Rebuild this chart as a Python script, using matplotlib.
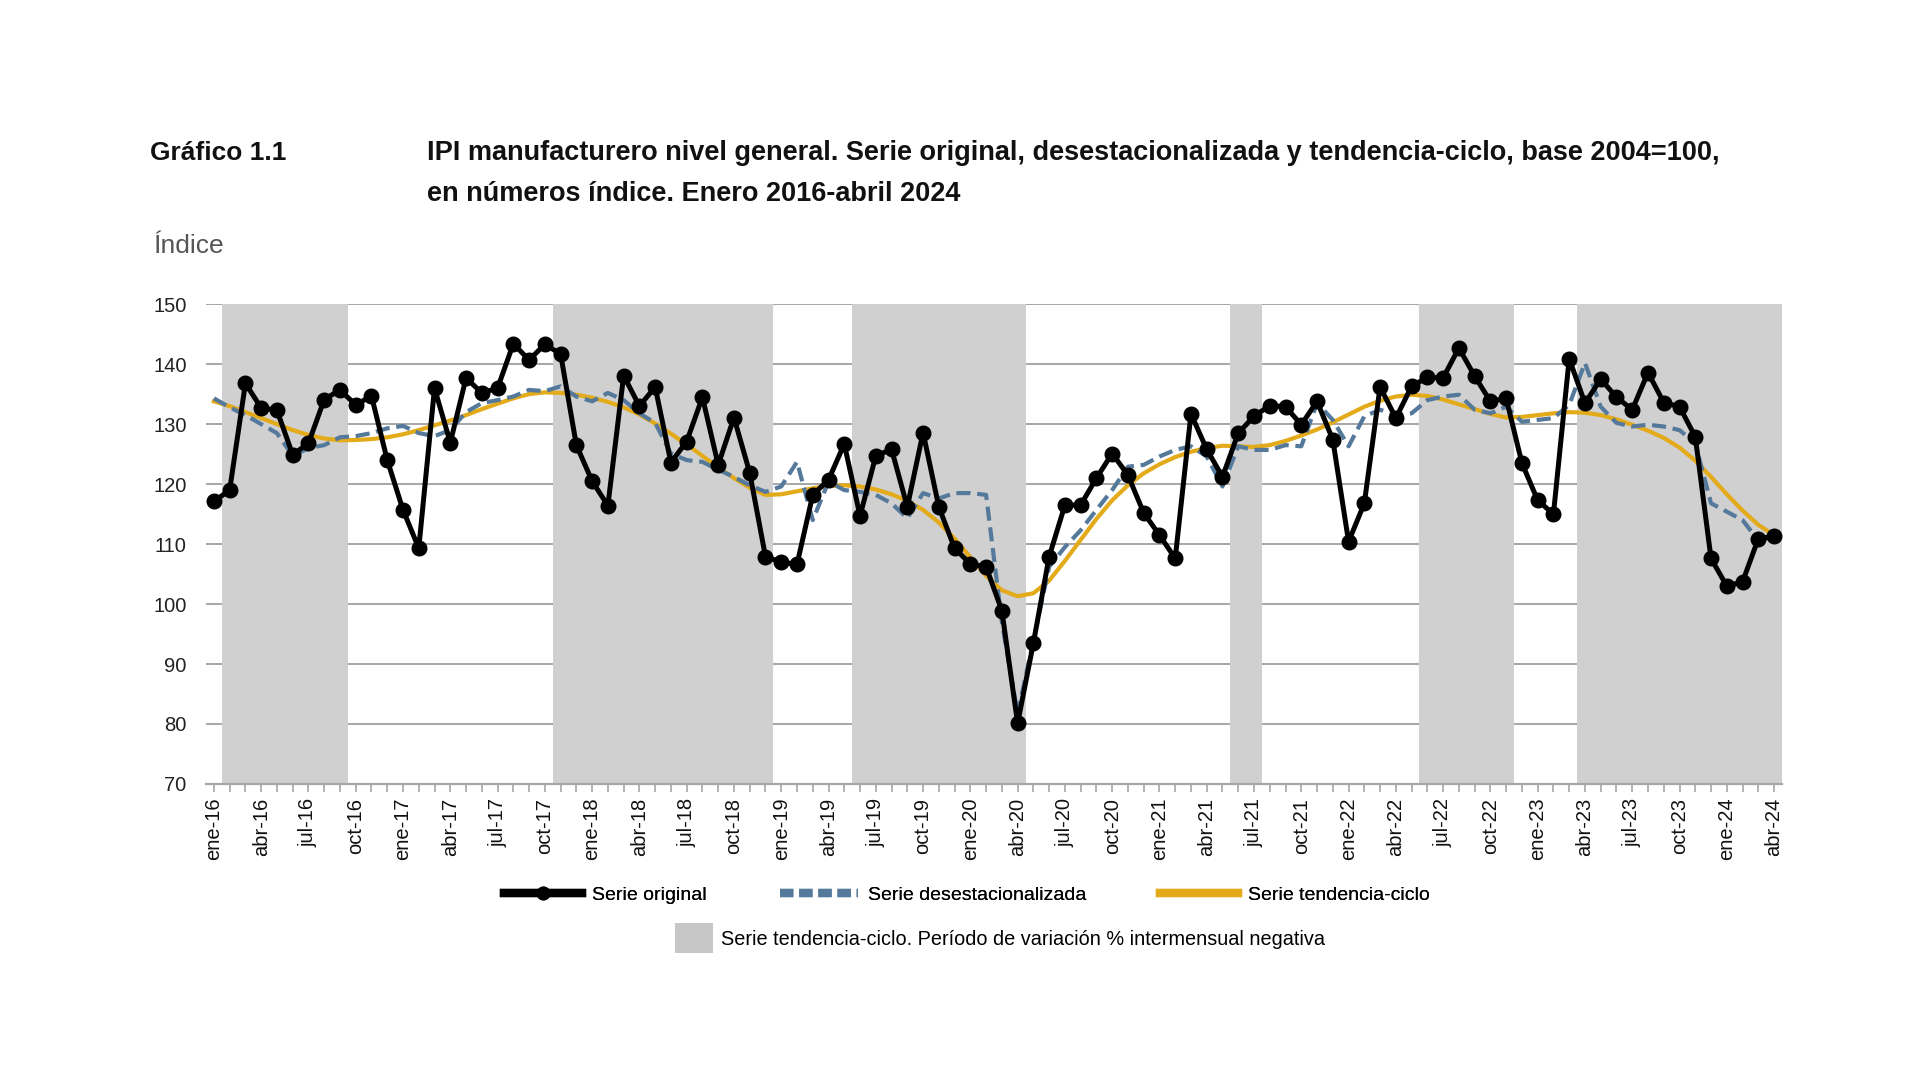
import numpy as np
import matplotlib
matplotlib.use("Agg")
import matplotlib.pyplot as plt
from matplotlib.lines import Line2D
from matplotlib.patches import Patch

plt.rcParams['font.family'] = ['Liberation Sans', 'DejaVu Sans']

# IPI manufacturero, ene-16 .. abr-24 (100 meses)
original = [117.1, 119.0, 136.8, 132.7, 132.3, 124.9, 126.8, 134.1, 135.7, 133.2,
            134.7, 124.0, 115.7, 109.3, 136.0, 126.9, 137.7, 135.2, 136.0, 143.4,
            140.7, 143.3, 141.7, 126.5, 120.5, 116.4, 138.1, 133.0, 136.2, 123.6,
            127.1, 134.5, 123.2, 131.1, 121.9, 107.9, 107.0, 106.6, 118.2, 120.7,
            126.7, 114.7, 124.7, 125.8, 116.2, 128.6, 116.2, 109.3, 106.7, 106.2,
            98.9, 80.1, 93.5, 107.9, 116.5, 116.5, 121.0, 125.1, 121.5, 115.2,
            111.5, 107.6, 131.7, 125.8, 121.2, 128.5, 131.3, 133.1, 132.9, 129.9,
            133.8, 127.4, 110.4, 116.8, 136.2, 131.0, 136.3, 137.8, 137.7, 142.7,
            138.0, 133.8, 134.3, 123.5, 117.3, 115.0, 140.9, 133.5, 137.5, 134.5,
            132.4, 138.6, 133.6, 132.9, 127.9, 107.6, 103.0, 103.7, 110.9, 111.3]

desest = [134.3, 132.8, 131.5, 130.0, 128.5, 124.7, 126.0, 126.5, 127.8, 128.0,
          128.5, 129.3, 129.7, 128.5, 128.0, 129.0, 132.0, 133.5, 134.0, 134.6,
          135.7, 135.5, 136.3, 134.6, 133.8, 135.2, 134.0, 131.8, 130.2, 125.1,
          124.0, 123.7, 122.4, 121.2, 119.8, 118.7, 119.6, 123.7, 114.0, 120.4,
          119.0, 118.7, 118.2, 116.8, 114.3, 118.5, 117.6, 118.5, 118.5, 118.2,
          97.0, 81.7, 93.9, 106.2, 109.5, 112.3, 115.7, 119.0, 122.9, 123.2,
          124.6, 125.7, 126.3, 124.6, 119.6, 126.3, 125.7, 125.7, 126.5, 126.3,
          133.5, 130.7, 126.3, 131.3, 132.4, 131.5, 131.8, 134.0, 134.6, 134.9,
          132.4, 131.8, 132.9, 130.4, 130.7, 131.0, 133.2, 140.2, 132.9, 130.2,
          129.6, 129.9, 129.6, 129.0, 126.8, 116.8, 115.4, 114.0, 110.6, 111.2]

tendencia = [133.8, 133.0, 132.0, 131.0, 130.0, 129.0, 128.2, 127.6, 127.3, 127.35,
             127.5, 127.8, 128.3, 129.0, 129.8, 130.6, 131.5, 132.5, 133.4, 134.3,
             135.0, 135.3, 135.2, 134.9, 134.4, 133.7, 132.8, 131.6, 130.1, 128.4,
             126.6, 124.7, 122.8, 121.0, 119.4, 118.2, 118.3, 118.8, 119.3, 119.7,
             119.8, 119.6, 119.1, 118.3, 117.2, 115.7, 113.6, 110.9, 107.8, 104.7,
             102.3, 101.3, 101.8, 103.9, 107.2, 110.7, 114.2, 117.3, 119.8, 121.8,
             123.3, 124.5, 125.4, 126.0, 126.4, 126.3, 126.2, 126.5, 127.2, 128.1,
             129.1, 130.3, 131.6, 132.9, 133.9, 134.6, 134.9, 134.7, 134.1, 133.3,
             132.5, 131.7, 131.1, 131.2, 131.5, 131.8, 132.0, 131.9, 131.5, 130.8,
             129.9, 128.9, 127.7, 126.1, 123.9, 121.2, 118.3, 115.6, 113.2, 111.5]

tick_labels = ['ene-16', 'abr-16', 'jul-16', 'oct-16', 'ene-17', 'abr-17', 'jul-17', 'oct-17',
               'ene-18', 'abr-18', 'jul-18', 'oct-18', 'ene-19', 'abr-19', 'jul-19', 'oct-19',
               'ene-20', 'abr-20', 'jul-20', 'oct-20', 'ene-21', 'abr-21', 'jul-21', 'oct-21',
               'ene-22', 'abr-22', 'jul-22', 'oct-22', 'ene-23', 'abr-23', 'jul-23', 'oct-23',
               'ene-24', 'abr-24']

BLACK = '#000000'
BLUE = '#55799a'
GOLD = '#e3aa1a'
SHADE = '#d1d0d1'
GRID = '#a6a6a6'

x = np.arange(len(original))

fig = plt.figure(figsize=(19.2, 10.71), dpi=100)
ax = fig.add_axes([0.1073, 0.268, 0.8208, 0.448])

# periodos con variacion intermensual negativa de la tendencia-ciclo
neg = np.diff(tendencia) < 0
i = 1
while i < len(tendencia):
    if neg[i - 1]:
        j = i
        while j + 1 < len(tendencia) and neg[j]:
            j += 1
        ax.axvspan(i - 0.5, j + 0.5, color=SHADE, lw=0, zorder=1)
        i = j + 1
    else:
        i += 1

ax.plot(x, tendencia, color=GOLD, lw=3.0, zorder=3)
ax.plot(x, desest, color=BLUE, lw=3.0, dashes=(3.4, 1.6), zorder=4)
ax.plot(x, original, color=BLACK, lw=3.6, marker='o', ms=10.5, zorder=5)

ax.set_xlim(-0.5, len(original) - 0.5)
ax.set_ylim(70, 150)
ax.set_yticks(np.arange(70, 151, 10))
ax.yaxis.grid(True, color=GRID, lw=1.4, zorder=0)
ax.set_axisbelow(True)

ax.set_xticks(x)
lbls = [''] * len(x)
for k, t in enumerate(tick_labels):
    lbls[k * 3] = t
ax.set_xticklabels(lbls, rotation=90, fontsize=14.5, color='#111111')
ax.tick_params(axis='x', length=6, width=1.2, color=GRID, pad=4)
ax.tick_params(axis='y', length=0, labelsize=14.5, labelcolor='#222222', pad=14)

for s in ['left', 'right', 'top']:
    ax.spines[s].set_visible(False)
ax.spines['bottom'].set_color(GRID)
ax.spines['bottom'].set_linewidth(1.6)
ax.spines['bottom'].set_zorder(6)

# titulos
fig.text(150 / 1920, 1 - 160 / 1071, 'Gráfico 1.1', fontsize=19, fontweight='bold',
         va='baseline', color='#111111')
fig.text(427 / 1920, 1 - 160 / 1071,
         'IPI manufacturero nivel general. Serie original, desestacionalizada y tendencia-ciclo, base 2004=100,',
         fontsize=19.5, fontweight='bold', va='baseline', color='#111111')
fig.text(427 / 1920, 1 - 201 / 1071, 'en números índice. Enero 2016-abril 2024',
         fontsize=19.5, fontweight='bold', va='baseline', color='#111111')
fig.text(153 / 1920, 1 - 253 / 1071, 'Índice', fontsize=19, va='baseline', color='#555555')

# leyendas
h1 = [Line2D([], [], color=BLACK, lw=6, marker='o', ms=9),
      Line2D([], [], color=BLUE, lw=6, dashes=(1.6, 0.7)),
      Line2D([], [], color=GOLD, lw=6)]
leg1 = fig.legend(h1, ['Serie original', 'Serie desestacionalizada', 'Serie tendencia-ciclo'],
                  loc='center', bbox_to_anchor=(0.5036, 0.1643), ncol=3, frameon=False,
                  fontsize=14, handlelength=4.0, handletextpad=0.5, columnspacing=3.8,
                  numpoints=1)
fig.add_artist(leg1)
h2 = [Patch(facecolor='#c8c7c8', edgecolor='none')]
fig.legend(h2, ['Serie tendencia-ciclo. Período de variación % intermensual negativa'],
           loc='center', bbox_to_anchor=(0.521, 0.124), frameon=False, fontsize=14.3,
           handlelength=1.9, handleheight=1.9, handletextpad=0.4)

fig.savefig('out.png', dpi=100, facecolor='white')
